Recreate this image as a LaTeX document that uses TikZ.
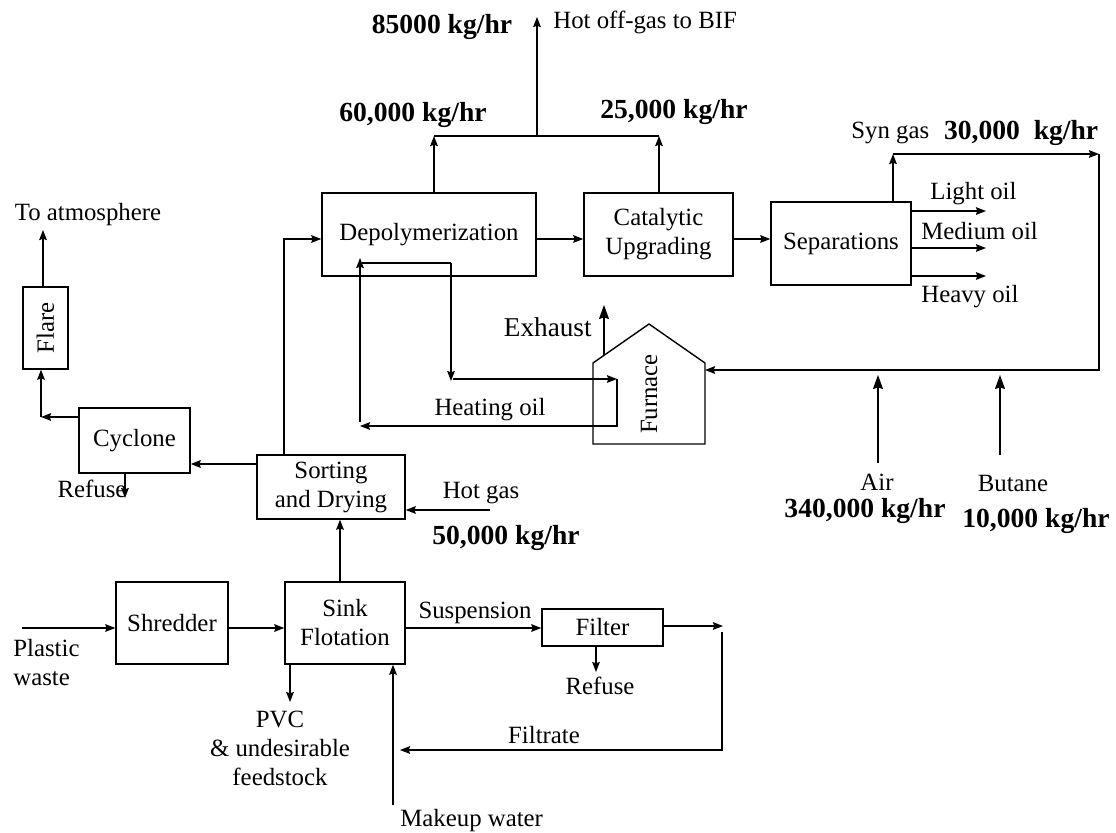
\documentclass[tikz,border=0pt]{standalone}
\usepackage{fontspec}
\setmainfont{Liberation Serif}
\usepackage{tikz}
\usetikzlibrary{arrows.meta, positioning, calc}
\newcommand{\plaintxt}{\fontsize{12.4}{14.5}\selectfont}
\newcommand{\ratetxt}{\fontsize{13.8}{16}\selectfont\bfseries}
\tikzset{
  unit/.style={
    rectangle, draw, line width=0.7pt,
    inner sep=1pt, align=center, font=\plaintxt,
  },
  arrow/.style={-{Stealth[length=5pt,width=3.8pt,inset=0.6pt]}, line width=0.7pt},
  bigarrow/.style={-{Stealth[length=7pt,width=5pt,inset=0.8pt]}, line width=0.7pt},
  stream/.style={font=\plaintxt, inner sep=0pt, align=center},
  rate/.style={font=\ratetxt, inner sep=0pt},
}

\begin{document}
\begin{tikzpicture}[x=0.5pt,y=-0.5pt]
  \useasboundingbox (0,0) rectangle (1116,832);
  \node[unit,minimum width=107pt,minimum height=41.5pt] (depoly) at (429,234.5) {Depolymerization};
  \node[unit,minimum width=74.5pt,minimum height=41.5pt] (cat) at (658.5,234.5) {Catalytic\\Upgrading};
  \node[unit,minimum width=70pt,minimum height=41.5pt] (sep) at (841,243.5) {Separations};
  \node[unit,minimum width=22.5pt,minimum height=41pt] (flare) at (45.5,328) {\rotatebox{90}{Flare}};
  \node[unit,minimum width=55.5pt,minimum height=32.5pt] (cyc) at (134.5,440.5) {Cyclone};
  \node[unit,minimum width=74pt,minimum height=32pt] (sort) at (331,487) {Sorting\\and Drying};
  \node[unit,minimum width=56pt,minimum height=41pt] (shred) at (172,623) {Shredder};
  \node[unit,minimum width=60pt,minimum height=41pt] (sink) at (345,623) {Sink\\Flotation};
  \node[unit,minimum width=60.5pt,minimum height=18.5pt] (filter) at (602.5,627.5) {Filter};
  \coordinate (fuL) at (593,444);
  \coordinate (fuR) at (705,370);
  \draw[line width=0.7pt] (fuL) -- (593,363) -- (649,324) -- (705,363) -- (705,444) -- cycle;
  \node[stream] (furnace) at (649,394) {\rotatebox{90}{Furnace}};

  \coordinate (gasL) at (434,136);
  \coordinate (gasR) at (659,136);
  \coordinate (gasTop) at (537,17);
  \draw[arrow] (gasL |- depoly.north) -- (gasL);
  \draw[arrow] (gasR |- cat.north) -- (gasR);
  \draw[line width=0.7pt] (gasL) -- (gasR);
  \draw[arrow] (gasL -| gasTop) -- (gasTop);
  \node[rate] (offrate) at (442,27) {85000 kg/hr};
  \node[stream,anchor=west] (offgas) at (553,22) {Hot off-gas to BIF};
  \node[rate] (deprate) at (413,115) {60,000 kg/hr};
  \node[rate] (catrate) at (674,112) {25,000 kg/hr};

  \draw[arrow] ([yshift=-2.25pt]depoly.east) -- ([yshift=-2.25pt]cat.west);
  \draw[arrow] ([yshift=-2.25pt]cat.east) -- ([yshift=-2.25pt]cat.east -| sep.west);
  \coordinate (sdUp) at (284,239);
  \draw[arrow] (sdUp |- sort.north) -- (sdUp) -- ([yshift=-2.25pt]depoly.west);

  \coordinate (hoA) at (451,263);
  \coordinate (hoB) at (451,381);
  \coordinate (hoC) at (453,379);
  \coordinate (hoD) at (617,379);
  \coordinate (hoE) at (617,426);
  \coordinate (hoF) at (360,426);
  \coordinate (hoG) at (360,422);
  \coordinate (hoH) at (360,258);
  \coordinate (hoI) at (362,263);
  \draw[line width=0.7pt] (hoI) -- (hoA);
  \draw[arrow] (hoA) -- (hoB);
  \draw[arrow] (hoC) -- (hoD);
  \draw[arrow] (hoD) -- (hoE) -- (hoF);
  \draw[arrow] (hoG) -- (hoH);
  \node[stream] (heatoil) at (490,410) {Heating oil};

  \coordinate (exB) at (604,355);
  \coordinate (exT) at (604,305);
  \draw[bigarrow] (exB) -- (exT);
  \node[stream,anchor=east,font=\fontsize{13.6}{16}\selectfont] (exhaust) at (592,327) {Exhaust};

  \coordinate (synC) at (893,154);
  \coordinate (synR) at (1099,154);
  \coordinate (loopB) at (1099,370);
  \draw[arrow] (synC |- sep.north) -- (synC);
  \draw[arrow] (synC) -- (synR);
  \draw[arrow] (synR) -- (loopB) -- (fuR);
  \node[stream,anchor=west] (syn) at (851,133) {Syn gas};
  \node[rate,right=7pt of syn] (synrate) {30,000\ \ kg/hr};

  \coordinate (light) at (986,211);
  \coordinate (medium) at (986,248);
  \coordinate (heavy) at (986,276);
  \draw[arrow] (light -| sep.east) -- (light);
  \draw[arrow] (medium -| sep.east) -- (medium);
  \draw[arrow] (heavy -| sep.east) -- (heavy);
  \node[stream,anchor=west] (lightoil) at (930,194) {Light oil};
  \node[stream,anchor=west] (mediumoil) at (921,231) {Medium oil};
  \node[stream,anchor=west] (heavyoil) at (921,297) {Heavy oil};

  \coordinate (airB) at (878,463);
  \coordinate (airT) at (878,375);
  \coordinate (butB) at (1000,455);
  \coordinate (butT) at (1000,375);
  \draw[bigarrow] (airB) -- (airT);
  \draw[bigarrow] (butB) -- (butT);
  \node[stream] (air) at (877,482) {Air};
  \node[rate] (airrate) at (865,511) {340,000 kg/hr};
  \node[stream] (butane) at (1013,483) {Butane};
  \node[rate] (butrate) at (1036,521) {10,000 kg/hr};

  \draw[arrow] ([yshift=11.5pt]sort.west) -- ([yshift=11.5pt]sort.west -| cyc.east);
  \coordinate (cfK) at (41,417);
  \draw[arrow] ([yshift=11.75pt]cyc.west) -- (cfK);
  \draw[arrow] (cfK) -- (cfK |- flare.south);
  \coordinate (atm) at (43,230);
  \draw[arrow] (atm |- flare.north) -- (atm);
  \node[stream] (toatm) at (88,215) {To atmosphere};
  \node[stream] (cycref) at (92,489) {Refuse};
  \coordinate (cyRef) at (125,498);
  \draw[arrow] (cyRef |- cyc.south) -- (cyRef);

  \coordinate (hgIn) at (490,510);
  \draw[arrow] (hgIn) -- (hgIn -| sort.east);
  \node[stream] (hotgas) at (481,493) {Hot gas};
  \node[rate] (hgrate) at (506,538) {50,000 kg/hr};
  \draw[arrow] ([xshift=-2.5pt]sink.north) -- ([xshift=-2.5pt]sink.north |- sort.south);

  \coordinate (pw) at (22,628);
  \draw[arrow] (pw) -- (pw -| shred.west);
  \node[stream,anchor=west,align=left] (plastic) at (13,663) {Plastic\\waste};
  \draw[arrow] ([yshift=-2.5pt]shred.east) -- ([yshift=-2.5pt]sink.west);
  \coordinate (pvc) at (290,702);
  \draw[arrow] (pvc |- sink.south) -- (pvc);
  \node[stream] (pvctxt) at (280,748) {PVC\\\& undesirable\\feedstock};
  \coordinate (mw) at (393,805);
  \draw[arrow] (mw) -- (mw |- sink.south);
  \node[stream,anchor=west] (makeup) at (400,821) {Makeup water};

  \draw[arrow] ([yshift=-2.5pt]sink.east) -- ([yshift=-2.5pt]sink.east -| filter.west);
  \node[stream] (susp) at (475,613) {Suspension};
  \coordinate (fo) at (723,626);
  \draw[arrow] (fo -| filter.east) -- (fo);
  \coordinate (fRef) at (596,672);
  \draw[arrow] (fRef |- filter.south) -- (fRef);
  \node[stream] (filref) at (600,686) {Refuse};
  \coordinate (ftT) at (722,632);
  \coordinate (ftB) at (722,750);
  \coordinate (ftL) at (400,750);
  \draw[arrow] (ftT) -- (ftB) -- (ftL);
  \node[stream] (filtrate) at (544,735) {Filtrate};
\end{tikzpicture}
\end{document}
